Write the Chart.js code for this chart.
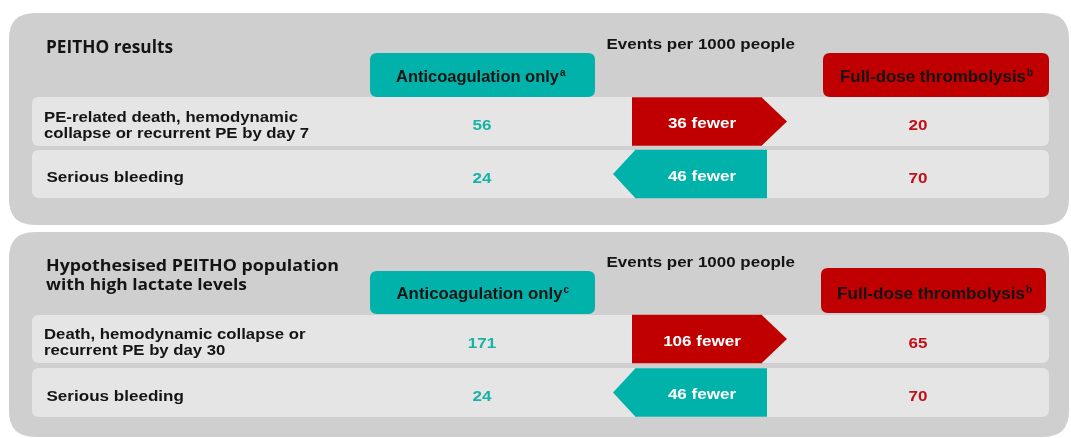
<!DOCTYPE html>
<html>
<head>
<meta charset="utf-8">
<script src="https://cdn.jsdelivr.net/npm/chart.js@4.4.1/dist/chart.umd.min.js"></script>
<style>
html,body{margin:0;padding:0;background:#fff;overflow:hidden}
#wrap{width:1071px;height:438px}
canvas{display:block}
</style>
</head>
<body>
<div id="wrap"><canvas id="c" width="1071" height="438"></canvas></div>
<script>
// ---------------- DATA ----------------
const panelTitles = [["PEITHO results"], ["Hypothesised PEITHO population", "with high lactate levels"]];
const measureLabel = "Events per 1000 people";
const comparatorLabels = ["Anticoagulation only", "Anticoagulation only"];
const comparatorNotes = ["a", "c"];
const treatmentLabels = ["Full-dose thrombolysis", "Full-dose thrombolysis"];
const treatmentNotes = ["b", "b"];
const outcomes = [
  ["PE-related death, hemodynamic", "collapse or recurrent PE by day 7"],
  ["Serious bleeding"],
  ["Death, hemodynamic collapse or", "recurrent PE by day 30"],
  ["Serious bleeding"]
];
const anticoagulationEvents = [56, 24, 171, 24];
const thrombolysisEvents = [20, 70, 65, 70];
const differenceEvents = [36, 46, 106, 46];
const differenceWord = "fewer";
const favouredArm = ["thrombolysis", "anticoagulation", "thrombolysis", "anticoagulation"];

// ---------------- LAYOUT / STYLE ----------------
const W = 1071, H = 438;
const TEAL = "#00b2a9", RED = "#c00000";
const TEAL_TXT = "#19b2a7", RED_TXT = "#c0101a";
const PANEL_BG = "#d0cfd0", ROW_BG = "#e5e5e5", INK = "#141414";
const PANELS = [{x0: 9, x1: 1069, y0: 13, y1: 225}, {x0: 9, x1: 1069, y0: 232, y1: 437}];
const ROWS = [{y0: 97, y1: 146}, {y0: 150, y1: 198}, {y0: 315, y1: 363}, {y0: 368, y1: 417}];
const ROW_X = [32, 1049];
const COMP_HEAD = [{x0: 370, x1: 595, y0: 53, y1: 97, tx: 396, tw: 163, base: 81.5},
                   {x0: 370, x1: 595, y0: 271, y1: 314, tx: 396.5, tw: 166, base: 298.5}];
const TREAT_HEAD = [{x0: 823, x1: 1049, y0: 53, y1: 97, tx: 840, tw: 186, base: 81.5},
                    {x0: 821, x1: 1046, y0: 268, y1: 313, tx: 837, tw: 188, base: 298.5}];
const MEASURE_POS = [{x: 606.5, w: 188.5, base: 48.5}, {x: 606.5, w: 188.5, base: 266.5}];
const TITLE_POS = [[{x: 46, w: 127, base: 52.7, size: 17.5}],
                   [{x: 46, w: 293, base: 270.7, size: 16.5}, {x: 46, w: 201, base: 290, size: 16.5}]];
const LABEL_X = 45;
const COMP_VALUE_X = 482, TREAT_VALUE_X = 918, DIFF_LABEL_X = 702;
const RED_BODY = [632, 762], TEAL_BODY = [635, 767];
const RED_TIP = 25, TEAL_TIP = 22;
const ARIAL = "'Liberation Sans', Arial, sans-serif";
const TITLE_FONT = "'Open Sans', 'Noto Sans', sans-serif";
const STRETCH = 1.1;

function rowCenter(i) { return (ROWS[i].y0 + ROWS[i].y1) / 2; }

function rr(ctx, x0, y0, x1, y1, r) {
  ctx.beginPath();
  ctx.moveTo(x0 + r, y0);
  ctx.lineTo(x1 - r, y0);
  ctx.quadraticCurveTo(x1, y0, x1, y0 + r);
  ctx.lineTo(x1, y1 - r);
  ctx.quadraticCurveTo(x1, y1, x1 - r, y1);
  ctx.lineTo(x0 + r, y1);
  ctx.quadraticCurveTo(x0, y1, x0, y1 - r);
  ctx.lineTo(x0, y0 + r);
  ctx.quadraticCurveTo(x0, y0, x0 + r, y0);
  ctx.closePath();
}

function drawText(ctx, s, x, y, o) {
  ctx.save();
  ctx.font = o.font;
  ctx.fillStyle = o.color;
  ctx.textBaseline = "alphabetic";
  ctx.textAlign = "left";
  const m = ctx.measureText(s).width;
  const sx = o.width ? o.width / m : (o.stretch || 1);
  const w = m * sx;
  let left = x;
  if (o.align === "center") left = x - w / 2;
  ctx.translate(left, y);
  ctx.scale(sx, 1);
  ctx.fillText(s, 0, 0);
  ctx.restore();
  return left + w;
}

const infographic = {
  id: "infographic",
  beforeDatasetsDraw(chart) {
    const ctx = chart.ctx;
    const sx = chart.scales.x, sy = chart.scales.y;
    const X = v => sx.getPixelForValue(v), Y = v => sy.getPixelForValue(v);
    ctx.save();
    ctx.fillStyle = "#ffffff";
    ctx.fillRect(0, 0, W, H);
    PANELS.forEach(p => {
      ctx.fillStyle = PANEL_BG;
      rr(ctx, X(p.x0), Y(p.y0), X(p.x1), Y(p.y1), 26);
      ctx.fill();
    });
    ROWS.forEach(r => {
      ctx.fillStyle = ROW_BG;
      rr(ctx, X(ROW_X[0]), Y(r.y0), X(ROW_X[1]), Y(r.y1), 7);
      ctx.fill();
    });
    COMP_HEAD.forEach(h => { ctx.fillStyle = TEAL; rr(ctx, X(h.x0), Y(h.y0), X(h.x1), Y(h.y1), 7); ctx.fill(); });
    TREAT_HEAD.forEach(h => { ctx.fillStyle = RED; rr(ctx, X(h.x0), Y(h.y0), X(h.x1), Y(h.y1), 7); ctx.fill(); });
    ctx.restore();
  },
  afterDatasetsDraw(chart) {
    const ctx = chart.ctx;
    const sx = chart.scales.x, sy = chart.scales.y;
    const X = v => sx.getPixelForValue(v), Y = v => sy.getPixelForValue(v);
    const meta = chart.getDatasetMeta(0);
    // arrow tips from the bar elements
    meta.data.forEach((bar, i) => {
      const p = bar.getProps(["x", "y", "base", "height"], true);
      const left = Math.min(p.x, p.base), right = Math.max(p.x, p.base);
      const top = p.y - p.height / 2, bot = p.y + p.height / 2;
      ctx.save();
      ctx.beginPath();
      if (favouredArm[i] === "thrombolysis") {
        ctx.fillStyle = RED;
        ctx.moveTo(right - 0.5, top); ctx.lineTo(right + RED_TIP, p.y); ctx.lineTo(right - 0.5, bot);
      } else {
        ctx.fillStyle = TEAL;
        ctx.moveTo(left + 0.5, top); ctx.lineTo(left - TEAL_TIP, p.y); ctx.lineTo(left + 0.5, bot);
      }
      ctx.closePath();
      ctx.fill();
      ctx.restore();
      drawText(ctx, differenceEvents[i] + " " + differenceWord, X(DIFF_LABEL_X), p.y + 6.5,
        {font: "bold 15.5px " + ARIAL, color: "#ffffff", align: "center", stretch: STRETCH});
    });
    // titles and headers
    panelTitles.forEach((lines, pi) => {
      lines.forEach((s, li) => {
        const t = TITLE_POS[pi][li];
        drawText(ctx, s, X(t.x), Y(t.base), {font: "bold " + t.size + "px " + TITLE_FONT, color: INK, width: t.w});
      });
      const m = MEASURE_POS[pi];
      drawText(ctx, measureLabel, X(m.x), Y(m.base), {font: "bold 15.5px " + ARIAL, color: INK, width: m.w});
      const c = COMP_HEAD[pi];
      let e = drawText(ctx, comparatorLabels[pi], X(c.tx), Y(c.base), {font: "bold 16px " + ARIAL, color: INK, width: c.tw});
      drawText(ctx, comparatorNotes[pi], e + 1, Y(c.base) - 6, {font: "bold 10px " + ARIAL, color: INK});
      const t = TREAT_HEAD[pi];
      e = drawText(ctx, treatmentLabels[pi], X(t.tx), Y(t.base), {font: "bold 16px " + ARIAL, color: INK, width: t.tw});
      drawText(ctx, treatmentNotes[pi], e + 1, Y(t.base) - 6, {font: "bold 10px " + ARIAL, color: INK});
    });
    // outcome rows
    outcomes.forEach((lines, i) => {
      const c = Y(rowCenter(i));
      if (lines.length === 2) {
        drawText(ctx, lines[0], X(LABEL_X - 1), c, {font: "bold 15.5px " + ARIAL, color: INK, stretch: 1.08});
        drawText(ctx, lines[1], X(LABEL_X - 1), c + 16, {font: "bold 15.5px " + ARIAL, color: INK, stretch: 1.08});
      } else {
        drawText(ctx, lines[0], X(LABEL_X + 1.5), c + 8, {font: "bold 15.5px " + ARIAL, color: INK, stretch: STRETCH});
      }
      drawText(ctx, String(anticoagulationEvents[i]), X(COMP_VALUE_X), c + 8.5,
        {font: "bold 15.5px " + ARIAL, color: TEAL_TXT, align: "center", stretch: STRETCH});
      drawText(ctx, String(thrombolysisEvents[i]), X(TREAT_VALUE_X), c + 8.5,
        {font: "bold 15.5px " + ARIAL, color: RED_TXT, align: "center", stretch: STRETCH});
    });
  }
};

const arrowData = differenceEvents.map((d, i) => ({
  y: rowCenter(i),
  x: favouredArm[i] === "thrombolysis" ? RED_BODY.slice() : TEAL_BODY.slice()
}));

new Chart(document.getElementById("c"), {
  type: "bar",
  data: {
    datasets: [{
      label: "Difference in events per 1000 people",
      data: arrowData,
      backgroundColor: favouredArm.map(a => a === "thrombolysis" ? RED : TEAL),
      borderWidth: 0,
      barThickness: 48.5,
      inflateAmount: 0
    }]
  },
  options: {
    indexAxis: "y",
    responsive: false,
    devicePixelRatio: 1,
    animation: false,
    events: [],
    layout: {padding: 0},
    scales: {
      x: {type: "linear", min: 0, max: W, display: false, offset: false},
      y: {type: "linear", min: 0, max: H, reverse: true, display: false, offset: false}
    },
    plugins: {legend: {display: false}, tooltip: {enabled: false}, title: {display: false}}
  },
  plugins: [infographic]
});
</script>
</body>
</html>
